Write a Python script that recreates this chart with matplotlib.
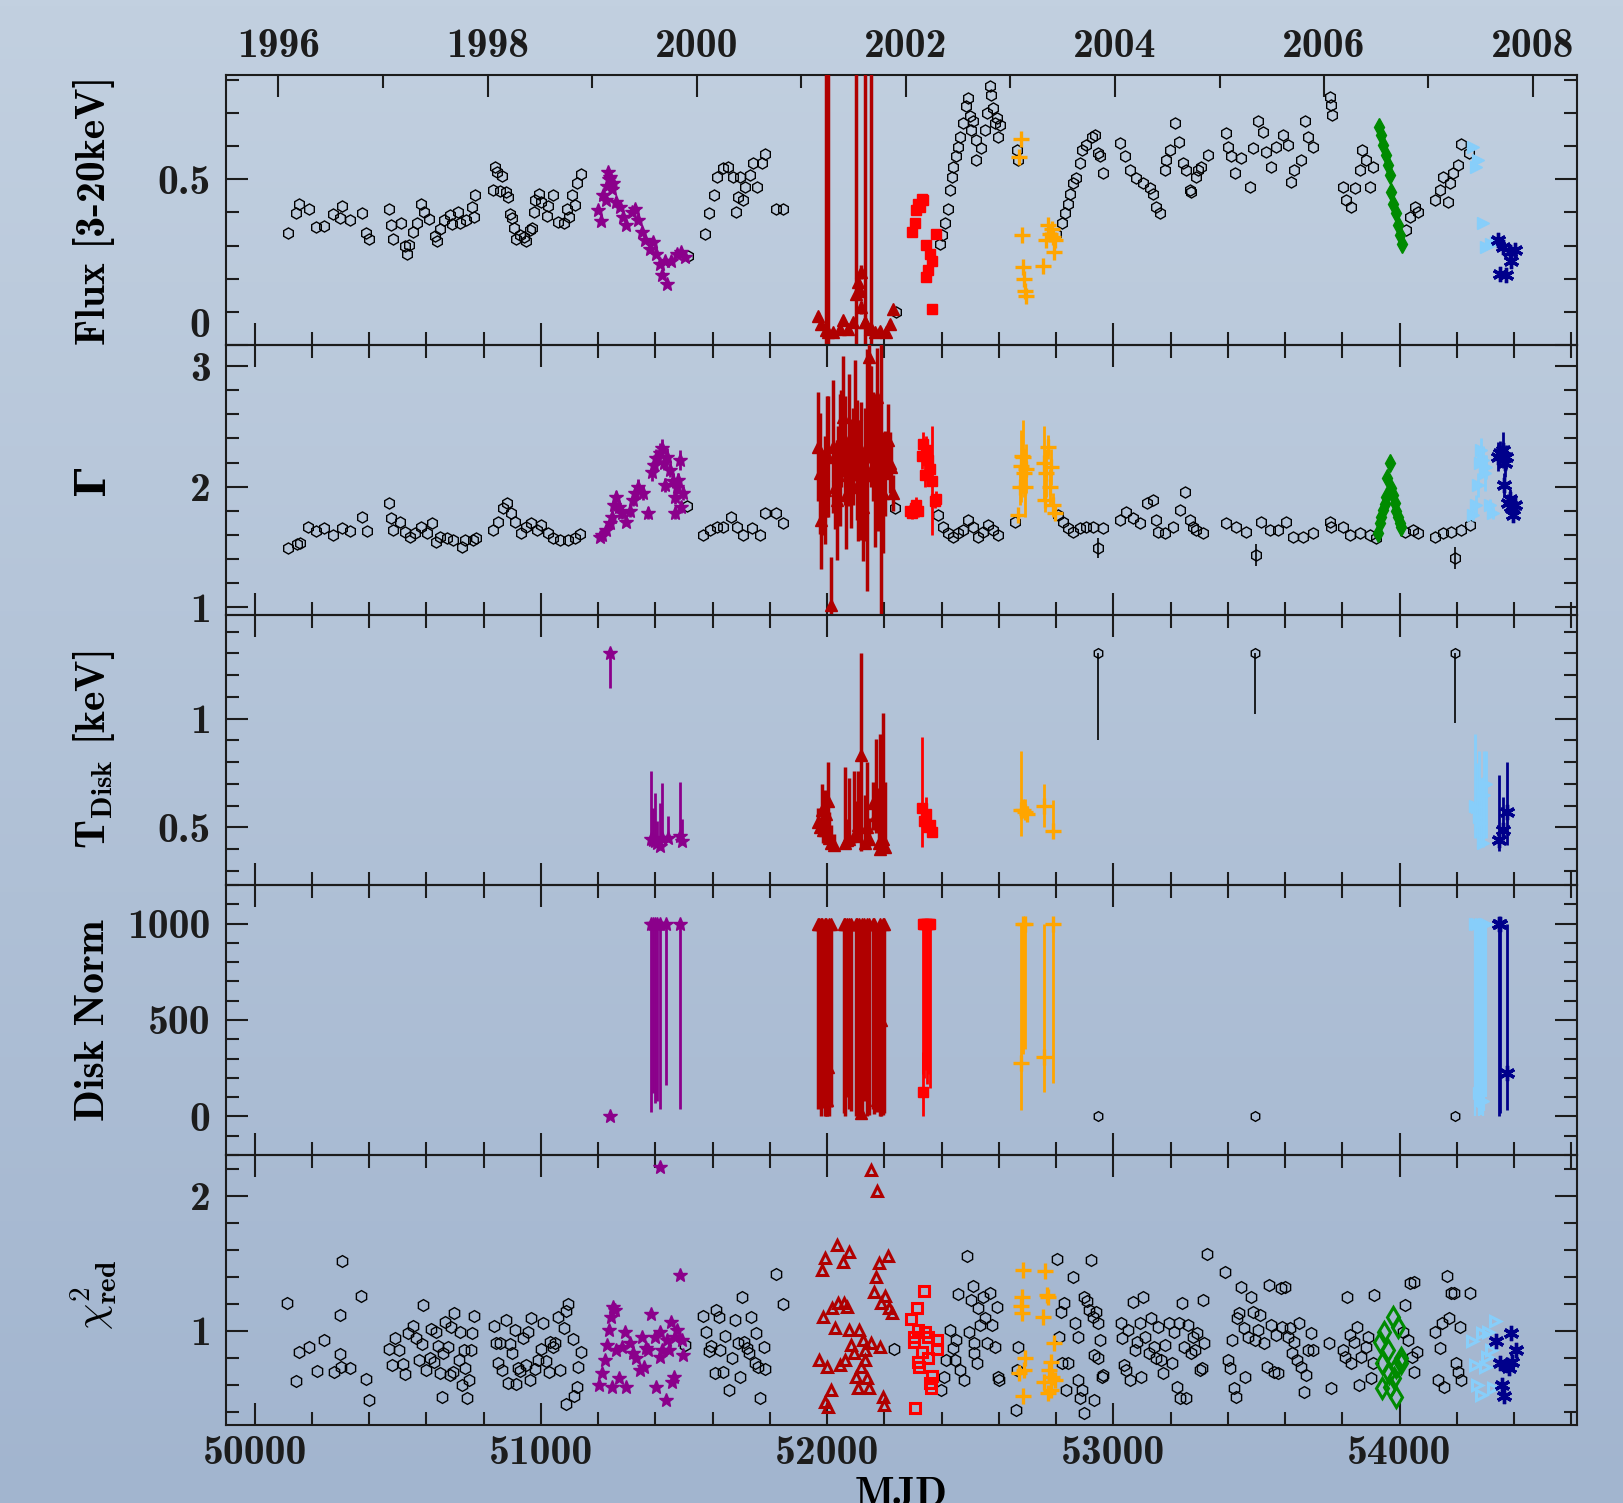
import datetime
import numpy as np
import matplotlib
matplotlib.use('Agg')
import matplotlib.pyplot as plt
from matplotlib.ticker import MultipleLocator, FuncFormatter

plt.rcParams['font.family'] = ['cmb10', 'DejaVu Serif']
plt.rcParams['mathtext.fontset'] = 'cm'
plt.rcParams['axes.unicode_minus'] = False
plt.rcParams['text.color'] = '#1c1c1c'

# ---------------- data: (MJD, value[, err] or [, err_lo, err_hi]) ----------------
flux_black = [
    (50115, .339), (50144, .398), (50156, .425), (50189, .410), (50216, .356), (50244, .359), (50275, .395),
    (50298, .382), (50306, .419), (50333, .377), (50374, .397), (50388, .338), (50399, .319), (50470, .410),
    (50476, .363), (50484, .321), (50513, .367), (50525, .298), (50534, .276), (50540, .303), (50554, .341),
    (50566, .367), (50582, .427), (50591, .402), (50610, .379), (50630, .329), (50638, .313), (50647, .351),
    (50661, .377), (50682, .392), (50688, .364), (50711, .402), (50719, .367), (50740, .377), (50758, .417),
    (50766, .387), (50770, .454), (50834, .468), (50839, .536), (50848, .523), (50857, .466), (50863, .510),
    (50878, .463), (50886, .447), (50892, .394), (50900, .382), (50906, .353), (50912, .319), (50927, .331),
    (50941, .326), (50948, .313), (50962, .346), (50970, .354), (50976, .400), (50979, .437), (50994, .457),
    (51002, .432), (51020, .389), (51026, .420), (51043, .452), (51061, .370), (51080, .367), (51090, .410),
    (51099, .387), (51109, .452), (51119, .422), (51125, .490), (51139, .516), (51515, .269),
    (51573, .336), (51588, .397), (51604, .452), (51614, .508), (51637, .533), (51654, .538), (51672, .508),
    (51681, .402), (51689, .447), (51695, .508), (51707, .437), (51713, .478), (51730, .513), (51742, .548),
    (51756, .478), (51771, .548), (51782, .576), (51823, .412), (51846, .412), (52240, .100),
    (52394, .306), (52403, .331), (52412, .367), (52423, .412), (52431, .467), (52438, .508), (52440, .538),
    (52452, .569), (52458, .599), (52464, .629), (52475, .670), (52487, .720), (52493, .745), (52499, .690),
    (52504, .649), (52510, .675), (52519, .558), (52522, .619), (52539, .594), (52551, .649), (52557, .700),
    (52568, .781), (52571, .755), (52580, .715), (52586, .670), (52592, .685), (52598, .629), (52603, .665),
    (52662, .589), (52667, .558),
    (52801, .336), (52819, .367), (52831, .397), (52842, .427), (52848, .457), (52860, .488), (52871, .503),
    (52883, .548), (52892, .589), (52906, .604), (52924, .629), (52935, .634), (52947, .579), (52953, .569),
    (52964, .518), (53022, .609), (53040, .569), (53057, .528), (53081, .503), (53104, .488), (53127, .473),
    (53139, .457), (53150, .417), (53162, .397), (53180, .528), (53185, .558), (53197, .589), (53214, .670),
    (53230, .614), (53244, .548), (53255, .528), (53267, .467), (53273, .462), (53290, .508), (53296, .528),
    (53307, .538), (53331, .574), (53393, .639), (53401, .599), (53412, .569), (53424, .518), (53447, .564),
    (53476, .478), (53488, .594), (53506, .675), (53523, .644), (53534, .584), (53552, .538), (53567, .599),
    (53593, .634), (53610, .604), (53622, .493), (53633, .528), (53657, .558), (53669, .675), (53680, .629),
    (53698, .599), (53756, .750), (53760, .725), (53764, .695), (53802, .478), (53814, .437), (53832, .417),
    (53843, .473), (53861, .528), (53870, .589), (53884, .558), (53896, .478), (53907, .538),
    (54024, .346), (54035, .387), (54053, .417), (54064, .402), (54123, .437), (54140, .467), (54152, .508),
    (54169, .432), (54175, .488), (54187, .518), (54204, .543), (54216, .607), (54243, .581),
]
flux_purple = [
    (51200, .407), (51209, .374), (51218, .452), (51227, .439), (51230, .480), (51235, .523), (51238, .500),
    (51243, .508), (51247, .470), (51253, .488), (51264, .432), (51276, .417), (51288, .387), (51299, .361),
    (51317, .402), (51328, .412), (51340, .377), (51352, .341), (51363, .316), (51381, .291), (51392, .311),
    (51404, .276), (51416, .245), (51422, .210), (51433, .255), (51441, .183), (51456, .255), (51474, .276),
    (51491, .281), (51503, .266),
]
flux_darkred = [
    (51969, .089, .01), (51980, .064, .01), (51995, .045, 1.0), (52004, .040, 1.0), (52021, .038, .01),
    (52044, .048, .01), (52056, .074, .01), (52074, .048, .01), (52091, .069, .01), (52100, .154, 1.0),
    (52108, .190, .02), (52114, .164, .02), (52118, .220, .02), (52120, .114, .02), (52132, .069, .01),
    (52134, .070, 1.0), (52149, .048, .01), (52152, .050, 1.0), (52167, .038, .01), (52184, .043, .01),
    (52207, .038, .01), (52219, .064, .01), (52231, .109, .01),
]
flux_red = [
    (52298, .341), (52306, .367), (52312, .407), (52318, .425), (52324, .417), (52330, .442), (52336, .438),
    (52345, .301), (52347, .205), (52351, .225), (52359, .276), (52365, .109), (52368, .255), (52382, .336),
]
flux_orange = [
    (52671, .566), (52677, .621), (52680, .331), (52685, .235), (52687, .200), (52691, .164), (52694, .149),
    (52755, .237), (52766, .316), (52772, .361), (52778, .336), (52785, .350), (52790, .326), (52792, .281),
    (52795, .316),
]
flux_green = [
    (53928, .659), (53936, .634), (53942, .604), (53951, .574), (53960, .543), (53965, .513), (53971, .463),
    (53977, .427), (53986, .397), (53995, .362), (54003, .331), (54008, .306),
]
flux_lblue = [(54256, .599), (54266, .536), (54274, .558), (54291, .367), (54303, .296), (54320, .306), (54338, .311)]
flux_navy = [(54344, .316), (54350, .215), (54361, .296), (54373, .210), (54385, .281), (54390, .255), (54402, .286)]

gamma_black = [
    (50115, 1.49), (50147, 1.525), (50158, 1.536), (50187, 1.663), (50216, 1.635), (50243, 1.66), (50275, 1.60),
    (50304, 1.655), (50333, 1.635), (50374, 1.746), (50391, 1.633), (50470, 1.862), (50475, 1.738),
    (50484, 1.641), (50508, 1.71), (50525, 1.627), (50542, 1.586), (50560, 1.619), (50583, 1.668),
    (50601, 1.613), (50618, 1.696), (50633, 1.544), (50647, 1.586), (50671, 1.572), (50694, 1.558),
    (50723, 1.503), (50735, 1.558), (50764, 1.558), (50773, 1.572), (50834, 1.641), (50851, 1.71),
    (50868, 1.82), (50882, 1.862), (50894, 1.779), (50909, 1.71), (50932, 1.613), (50948, 1.668),
    (50967, 1.696), (50985, 1.641), (51002, 1.682), (51026, 1.613), (51043, 1.572), (51066, 1.558),
    (51096, 1.558), (51119, 1.572), (51136, 1.608), (51509, 1.84),
    (51567, 1.60), (51590, 1.641), (51614, 1.668), (51637, 1.668), (51666, 1.751), (51684, 1.668),
    (51707, 1.60), (51736, 1.655), (51765, 1.60), (51782, 1.779), (51823, 1.779), (51847, 1.696), (52236, 1.82),
    (52388, 1.765), (52405, 1.668), (52423, 1.613), (52440, 1.586), (52458, 1.613), (52475, 1.641),
    (52493, 1.724), (52510, 1.668), (52528, 1.586), (52545, 1.627), (52563, 1.682), (52580, 1.641),
    (52598, 1.60), (52656, 1.71),
    (52807, 1.765), (52825, 1.71), (52842, 1.655), (52860, 1.627), (52883, 1.655), (52906, 1.668),
    (52929, 1.668), (52964, 1.655), (53022, 1.724), (53046, 1.793), (53069, 1.738), (53092, 1.696),
    (53116, 1.862), (53139, 1.89), (53150, 1.724), (53156, 1.627), (53180, 1.613), (53209, 1.668),
    (53232, 1.806), (53250, 1.959), (53267, 1.724), (53278, 1.668), (53290, 1.641), (53313, 1.613),
    (53395, 1.696), (53430, 1.668), (53465, 1.627), (53517, 1.71), (53546, 1.641), (53575, 1.641),
    (53604, 1.71), (53628, 1.586), (53663, 1.586), (53698, 1.613), (53756, 1.71), (53762, 1.668),
    (53802, 1.668), (53826, 1.60), (53861, 1.613), (53896, 1.60), (53919, 1.572), (54018, 1.627),
    (54047, 1.641), (54064, 1.613), (54123, 1.586), (54152, 1.613), (54181, 1.627), (54216, 1.641),
    (54245, 1.682),
]
gamma_black_err = [(52947, 1.49, .08), (53497, 1.434, .09), (54195, 1.406, .09)]
gamma_purple = [
    (51206, 1.586, .03), (51215, 1.60, .03), (51229, 1.641, .04), (51240, 1.70, .04), (51247, 1.75, .05),
    (51255, 1.85, .05), (51264, 1.917, .05), (51272, 1.83, .04), (51282, 1.78, .05), (51299, 1.71, .04),
    (51310, 1.80, .05), (51322, 1.89, .05), (51330, 1.95, .05), (51340, 2.0, .06), (51357, 1.945, .06),
    (51375, 1.78, .05), (51387, 2.124, .08), (51397, 2.18, .08), (51404, 2.235, .08), (51415, 2.28, .08),
    (51422, 2.318, .08), (51430, 2.2, .06), (51433, 2.014, .06), (51439, 2.249, .07), (51451, 2.138, .06),
    (51460, 2.05, .06), (51468, 1.917, .06), (51470, 1.78, .05), (51475, 2.0, .06), (51480, 2.055, .06),
    (51486, 2.22, .08), (51491, 1.834, .05), (51497, 1.945, .06),
]
gamma_darkred = [
    (51969, 2.332, .45), (51975, 2.11, .5), (51980, 1.72, .4), (51986, 1.95, .35), (51992, 1.972, .45),
    (51998, 2.25, .5), (52004, 2.249, .5), (52012, 1.02, .4), (52021, 2.332, .55), (52027, 2.0, .35),
    (52033, 1.89, .5), (52039, 2.1, .4), (52044, 2.22, .55), (52050, 2.4, .4), (52056, 2.58, .5),
    (52062, 2.3, .45), (52066, 1.93, .45), (52077, 2.386, .55), (52085, 2.11, .45), (52091, 2.25, .4),
    (52097, 2.55, .5), (52103, 2.22, .5), (52108, 2.0, .45), (52114, 2.055, .5), (52120, 2.3, .4),
    (52126, 1.834, .45), (52132, 2.1, .55), (52138, 2.138, 1.0), (52147, 3.077, .25), (52150, 2.6, .4),
    (52155, 2.497, .5), (52161, 2.332, .45), (52167, 2.1, .6), (52173, 2.746, .4), (52178, 2.083, .45),
    (52184, 2.2, .5), (52190, 2.249, 1.45), (52196, 1.95, .5), (52202, 2.11, .35), (52213, 2.386, .3),
    (52219, 2.2, .25), (52225, 2.166, .2), (52231, 1.945, .15),
]
gamma_red = [
    (52290, 1.80, .05), (52298, 1.78, .05), (52306, 1.82, .05), (52312, 1.85, .06), (52318, 1.80, .05),
    (52330, 2.25, .1), (52336, 2.35, .1), (52341, 2.1, .1), (52347, 2.30, .12), (52353, 2.22, .1),
    (52359, 2.15, .1), (52365, 2.05, .45), (52376, 1.88, .06), (52382, 1.90, .06),
]
gamma_orange = [
    (52667, 1.765, .05), (52673, 2.0, .15), (52677, 2.17, .3), (52681, 2.25, .2), (52685, 2.249, .3),
    (52688, 2.11, .2), (52691, 2.0, .25), (52694, 2.15, .2), (52757, 2.2, .3), (52762, 1.89, .1),
    (52766, 2.11, .2), (52772, 2.332, .1), (52778, 2.0, .15), (52784, 2.166, .15), (52790, 1.85, .1),
    (52795, 1.78, .06),
]
gamma_green = [
    (53925, 1.613), (53930, 1.70), (53936, 1.751), (53942, 1.806), (53948, 1.86), (53954, 1.917),
    (53957, 2.069), (53965, 2.2), (53971, 1.986), (53977, 1.93), (53983, 1.862), (53989, 1.80),
    (53995, 1.751), (54000, 1.70), (54006, 1.668),
]
gamma_lblue = [
    (54257, 1.765, .05), (54266, 1.85, .08), (54274, 2.014, .1), (54280, 2.2, .1), (54286, 2.304, .1),
    (54291, 2.22, .12), (54297, 2.11, .15), (54303, 2.166, .1), (54315, 1.848, .05), (54326, 1.78, .05),
]
gamma_navy = [
    (54344, 2.249, .12), (54352, 2.28, .1), (54361, 2.304, .15), (54364, 2.014, .1), (54367, 2.2, .12),
    (54373, 2.249, .1), (54379, 1.862, .08), (54385, 1.90, .08), (54390, 1.834, .06), (54396, 1.765, .05),
    (54402, 1.848, .06),
]

tdisk_black = [(52947, 1.30, .40, 0), (53495, 1.30, .28, 0), (54194, 1.30, .32, 0)]
tdisk_purple = [
    (51240, 1.30, .16, 0), (51384, .448, .02, .31), (51392, .44, .02, .15), (51399, .437, .02, .22),
    (51407, .43, .02, .10), (51415, .414, .02, .20), (51423, .452, .02, .25), (51443, .452, .02, .10),
    (51485, .46, .02, .25), (51493, .437, .02, .10),
]
tdisk_darkred = [
    (51968, .527, .03, .06), (51975, .50, .04, .05), (51981, .58, .08, .12), (51986, .49, .06, .05),
    (51992, .49, .05, .18), (51997, .56, .10, .10), (52003, .62, .12, .18), (52008, .45, .03, .12),
    (52012, .43, .02, .08), (52023, .42, .02, .05), (52062, .43, .03, .35), (52070, .44, .03, .10),
    (52078, .445, .04, .28), (52093, .46, .03, .30), (52100, .47, .03, .15), (52109, .51, .04, .25),
    (52120, .833, .44, .47), (52132, .43, .03, .22), (52140, .50, .06, .30), (52148, .445, .03, .10),
    (52159, .61, .12, .10), (52171, .555, .08, .35), (52180, .43, .03, .25), (52184, .40, .02, .53),
    (52195, .445, .04, .58), (52203, .41, .02, .30),
]
tdisk_red = [
    (52330, .588, .18, .33), (52338, .53, .05, .05), (52346, .56, .05, .08), (52353, .50, .03, .05),
    (52360, .51, .03, .04), (52366, .48, .02, .05),
]
tdisk_orange = [
    (52677, .58, .12, .27), (52684, .58, .03, .05), (52690, .57, .03, .06), (52697, .56, .03, .04),
    (52757, .60, .10, .10), (52791, .485, .025, .14),
]
tdisk_lblue = [
    (54264, .60, .15, .33), (54270, .596, .14, .20), (54276, .55, .10, .30), (54283, .52, .08, .20),
    (54290, .43, .02, .30), (54294, .65, .20, .20), (54303, .70, .25, .15),
]
tdisk_navy = [(54347, .443, .05, .30), (54360, .49, .05, .15), (54376, .57, .15, .23)]

norm_black = [(52947, 0), (53495, 0), (54194, 0)]
norm_purple = [
    (51240, 0, 0, 0), (51384, 1000, 975, 0), (51392, 1000, 880, 0), (51399, 1000, 930, 0),
    (51407, 1000, 920, 0), (51415, 1000, 960, 0), (51438, 1000, 835, 0), (51485, 1000, 960, 0),
]
norm_darkred = [
    (51968, 1000, 960, 0), (51972, 1000, 570, 0), (51978, 1000, 1000, 0), (51983, 1000, 500, 0),
    (51988, 744, 700, 256), (51992, 1000, 1000, 0), (51997, 1000, 1000, 0), (52000, 85, 85, 900),
    (52003, 258, 200, 740), (52008, 1000, 1000, 0), (52012, 1000, 950, 0), (52058, 1000, 980, 0),
    (52064, 1000, 1000, 0), (52070, 1000, 900, 0), (52078, 1000, 960, 0), (52085, 1000, 970, 0),
    (52100, 1000, 1000, 0), (52105, 1000, 800, 0), (52112, 1000, 1000, 0), (52117, 18, 18, 980),
    (52122, 1000, 1000, 0), (52130, 1000, 920, 0), (52138, 1000, 1000, 0), (52145, 1000, 990, 0),
    (52160, 1000, 960, 0), (52165, 1000, 985, 0), (52175, 85, 60, 900), (52184, 1000, 1000, 0),
    (52190, 500, 500, 500), (52195, 1000, 990, 0), (52200, 1000, 980, 0),
]
norm_red = [
    (52334, 128, 128, 208), (52336, 1000, 780, 0), (52340, 1000, 800, 0), (52345, 1000, 760, 0),
    (52350, 1000, 830, 0), (52355, 1000, 780, 0), (52358, 1000, 850, 0),
]
norm_orange = [
    (52677, 275, 242, 725), (52686, 1000, 675, 0), (52690, 1000, 650, 0), (52757, 306, 178, 694),
    (52791, 1000, 828, 0),
]
norm_lblue = [
    (54264, 1000, 1000, 0), (54270, 1000, 950, 0), (54276, 121, 121, 879), (54283, 1000, 990, 0),
    (54290, 80, 80, 920), (54296, 1000, 970, 0), (54303, 1000, 900, 0),
]
norm_navy = [(54347, 1000, 1000, 0), (54352, 1000, 980, 0), (54376, 224, 190, 776)]

chi_black = [
    (50114, 1.206), (50144, .628), (50155, .841), (50189, .875), (50217, .702), (50244, .930), (50276, .693),
    (50297, .823), (50300, 1.115), (50302, .732), (50306, 1.512), (50333, .722), (50372, 1.258), (50389, .643),
    (50400, .485), (50471, .863), (50479, .744), (50490, .942), (50506, .856), (50518, .752), (50526, .678),
    (50537, .979), (50553, 1.033), (50565, .942), (50576, .781), (50584, .900), (50588, 1.186), (50599, .707),
    (50612, .794), (50616, 1.011), (50627, .769), (50635, .991), (50640, .885), (50646, .683), (50654, .510),
    (50659, .831), (50666, 1.063), (50674, .880), (50682, .670), (50687, 1.028), (50694, .695), (50698, 1.132),
    (50713, .781), (50718, .991), (50724, .596), (50732, .856), (50736, .720), (50741, .497), (50749, .633),
    (50757, .856), (50760, .979), (50768, 1.110), (50836, 1.033), (50843, .910), (50852, .757), (50858, .910),
    (50864, .707), (50877, 1.078), (50885, .609), (50892, .898), (50900, .831), (50908, 1.004), (50913, .604),
    (50920, .720), (50927, .700), (50939, .942), (50949, .744), (50955, .991), (50963, .633), (50967, 1.090),
    (50978, .712), (50989, .781), (51002, .860), (51009, 1.058), (51017, .774), (51028, .695), (51033, .917),
    (51041, .880), (51048, .905), (51061, 1.102), (51067, .707), (51080, 1.021), (51087, 1.145), (51089, .456),
    (51095, 1.194), (51111, .935), (51115, .517), (51126, .584), (51131, .732), (51139, .841), (51505, .893),
    (51566, 1.107), (51578, .991), (51586, .848), (51594, .888), (51607, .683), (51613, 1.152), (51622, 1.102),
    (51625, .856), (51638, .695), (51644, .959), (51657, .559), (51669, .794), (51680, 1.078), (51688, .905),
    (51696, .658), (51703, 1.251), (51711, .917), (51719, .868), (51727, .836), (51735, 1.097), (51747, .762),
    (51750, .979), (51758, .732), (51766, .497), (51778, .880), (51784, .717), (51820, 1.416), (51847, 1.194),
    (52234, .86),
    (52399, .559), (52407, .658), (52415, .781), (52428, 1.004), (52439, .868), (52447, .781), (52451, .930),
    (52459, 1.268), (52464, .707), (52480, .633), (52488, 1.552), (52496, .991), (52504, 1.226), (52509, 1.330),
    (52512, .905), (52515, .831), (52525, .757), (52528, 1.164), (52536, 1.041), (52544, 1.251), (52552, 1.090),
    (52560, .905), (52568, 1.280), (52576, 1.041), (52585, .880), (52593, 1.177), (52596, .658), (52601, .633),
    (52660, .411), (52665, .707), (52666, .880),
    (52802, 1.527), (52810, .954), (52818, 1.139), (52819, .762), (52826, 1.201), (52834, .559), (52843, .757),
    (52859, 1.399), (52867, 1.053), (52875, .954), (52876, .633), (52883, .497), (52891, .559), (52896, .387),
    (52899, 1.251), (52907, 1.221), (52915, 1.152), (52923, 1.522), (52928, 1.102), (52931, .818), (52934, .485),
    (52939, 1.139), (52947, 1.053), (52948, .794), (52955, .930), (52960, .658), (52963, .670),
    (53028, 1.053), (53031, .942), (53036, .744), (53044, .707), (53052, 1.004), (53060, .633), (53068, 1.214),
    (53076, .856), (53084, .917), (53093, 1.053), (53096, .658), (53105, 1.251), (53109, .954), (53125, .831),
    (53133, 1.090), (53141, .880), (53149, .794), (53157, 1.028), (53165, .781), (53173, .683), (53181, .893),
    (53193, 1.053), (53205, .757), (53213, .991), (53222, .584), (53230, 1.053), (53234, .497), (53241, 1.201),
    (53246, .880), (53254, .497), (53262, 1.041), (53270, .831), (53278, .954), (53286, .856), (53294, .979),
    (53302, .707), (53310, .720), (53315, 1.226), (53318, .905), (53326, 1.567),
    (53391, 1.436), (53399, .781), (53407, .720), (53415, .930), (53420, .572), (53428, .510), (53431, 1.090),
    (53439, 1.127), (53447, 1.325), (53455, 1.016), (53460, .658), (53471, .954), (53480, 1.251), (53488, 1.139),
    (53496, .930), (53504, 1.004), (53512, 1.115), (53528, .905), (53536, .732), (53544, 1.337), (53552, 1.041),
    (53560, .695), (53568, .967), (53576, .683), (53585, 1.312), (53589, 1.028), (53601, 1.325), (53609, .954),
    (53617, 1.016), (53625, .831), (53633, .917), (53641, .781), (53649, 1.053), (53657, .732), (53665, .547),
    (53673, .670), (53681, .856), (53689, .979), (53697, .856),
    (53754, .905), (53762, .572), (53802, .856), (53810, .806), (53818, 1.251), (53826, .967), (53831, .757),
    (53842, .917), (53850, 1.028), (53859, .596), (53867, .806), (53883, .880), (53891, .954), (53899, .646),
    (53907, .757), (53912, 1.263),
    (54012, .991), (54020, 1.189), (54028, .930), (54036, 1.349), (54044, .806), (54049, 1.362), (54052, .695),
    (54060, .843), (54125, .991), (54133, .633), (54141, .868), (54149, 1.053), (54157, .584), (54165, 1.404),
    (54173, 1.090), (54181, 1.275), (54189, 1.275), (54197, .757), (54205, .695), (54210, 1.028), (54213, .633),
    (54246, 1.275),
]
chi_purple = [
    (51204, .596), (51212, .683), (51223, .781), (51232, .893), (51239, 1.004), (51245, 1.102), (51248, .584),
    (51251, 1.177), (51259, 1.152), (51264, .856), (51274, .646), (51282, .880), (51295, .991), (51298, .584),
    (51310, .905), (51321, .831), (51332, .794), (51345, .707), (51352, .954), (51360, .732), (51368, .868),
    (51376, .856), (51384, 1.122), (51399, .954), (51404, .584), (51415, 2.209), (51415, .991), (51416, .806),
    (51423, .856), (51438, .485), (51440, .930), (51446, .856), (51454, 1.065), (51457, .621), (51466, .658),
    (51469, .954), (51477, 1.004), (51485, 1.411), (51493, .930), (51498, .818),
]
chi_darkred = [
    (51972, .781), (51981, 1.448), (51987, 1.102), (51992, 1.535), (51993, .473), (52000, .732), (52003, .436),
    (52012, .559), (52018, 1.164), (52028, 1.016), (52035, 1.633), (52039, 1.201), (52046, .744), (52054, 1.510),
    (52059, 1.201), (52062, .781), (52070, 1.177), (52077, 1.584), (52078, 1.004), (52085, .893), (52093, .831),
    (52101, .658), (52109, .571), (52112, 1.004), (52117, .732), (52124, .930), (52132, .781), (52133, .856),
    (52140, .646), (52148, .571), (52152, 2.189), (52155, .905), (52163, 1.288), (52171, 1.399), (52176, 2.036),
    (52182, 1.497), (52184, .880), (52187, 1.201), (52194, .510), (52198, .448), (52202, 1.258), (52213, 1.552),
    (52218, 1.164), (52226, 1.127),
]
chi_red = [
    (52294, 1.083), (52302, .954), (52303, .917), (52307, .423), (52315, 1.167), (52318, 1.004), (52319, .769),
    (52322, .732), (52331, .843), (52339, 1.290), (52343, .991), (52351, .954), (52354, .794), (52359, .609),
    (52364, .572), (52367, .663), (52383, .930), (52384, .860),
]
chi_orange = [
    (52670, .683), (52676, 1.181), (52681, 1.251), (52682, 1.127), (52683, .517), (52686, 1.448), (52687, .707),
    (52693, .794), (52754, 1.102), (52757, .621), (52762, 1.441), (52770, 1.263), (52771, .535), (52773, 1.246),
    (52774, .707), (52783, .769), (52784, .559), (52786, .658), (52794, .905), (52795, .633),
]
chi_green = [
    (53931, .917), (53939, .757), (53940, .572), (53947, .991), (53960, .856), (53963, .683), (53966, .579),
    (53976, 1.102), (53980, .646), (53987, .732), (53988, .510), (53996, 1.028), (54004, .794), (54005, .757),
]
chi_lblue = [
    (54254, .925), (54262, .744), (54270, .596), (54286, .522), (54289, .979), (54300, .732), (54306, .806),
    (54310, .991), (54318, .856), (54326, .572), (54334, 1.073),
]
chi_navy = [
    (54337, .925), (54350, .757), (54358, .596), (54366, .515), (54375, .744), (54383, .720), (54391, .984),
    (54392, .769), (54407, .856),
]

years = list(range(1996, 2009))
ylabels = ['Flux [3-20keV]', 'Γ', r'T$_{\mathbf{Disk}}$ [keV]', 'Disk Norm',
           r'$\chi^{\mathbf{2}}_{\mathbf{red}}$']

FS = 30

# ---------------- figure ----------------
W, H = 1624, 1503
fig = plt.figure(figsize=(W / 100, H / 100), dpi=100)

# background gradient
bg = fig.add_axes([0, 0, 1, 1], zorder=-10)
top_c = np.array([194, 208, 224]) / 255.0
bot_c = np.array([162, 181, 207]) / 255.0
t = np.linspace(0, 1, 256)[:, None, None]
grad = top_c * (1 - t) + bot_c * t
bg.imshow(np.repeat(grad, 2, axis=1), aspect='auto', extent=[0, 1, 0, 1])
bg.axis('off')

left, right, top_px, ph = 226, 1577, 75, 270
axes = []
for i in range(5):
    y0 = 1 - (top_px + ph * (i + 1)) / H
    ax = fig.add_axes([left / W, y0, (right - left) / W, ph / H],
                      sharex=axes[0] if axes else None)
    ax.set_facecolor('none')
    axes.append(ax)
ax1, ax2, ax3, ax4, ax5 = axes


def cols(rows):
    return [np.array(c, dtype=float) for c in zip(*rows)]


def draw(ax, rows, color, marker, ms, hollow=False, mew=1.0, elw=2.0, z=3):
    c = cols(rows)
    yerr = None
    if len(c) == 3:
        yerr = c[2]
    elif len(c) == 4:
        yerr = [c[2], c[3]]
    ax.errorbar(c[0], c[1], yerr=yerr, fmt='', marker=marker, ls='none', color=color, ms=ms,
                mfc='none' if hollow else color, mec=color, mew=mew,
                elinewidth=elw, capsize=0, zorder=z)


PURPLE, DRED, RED, ORANGE = '#8b008b', '#b00000', '#ff0000', '#ffa500'
GREEN, LBLUE, NAVY = '#008b00', '#87cefa', '#00008b'
STAR = (6, 2, 0)

# flux
draw(ax1, flux_black, 'k', 'h', 8, hollow=True, z=2)
draw(ax1, flux_purple, PURPLE, '*', 10)
draw(ax1, flux_darkred, DRED, '^', 8, elw=2.5)
draw(ax1, flux_red, RED, 's', 6.5)
draw(ax1, flux_orange, ORANGE, '+', 12, mew=2.4)
draw(ax1, flux_green, GREEN, 'd', 9)
draw(ax1, flux_lblue, LBLUE, '>', 8)
draw(ax1, flux_navy, NAVY, STAR, 11, mew=2.4)

# photon index
draw(ax2, gamma_black, 'k', 'h', 8, hollow=True, z=2)
draw(ax2, gamma_black_err, 'k', 'h', 8, hollow=True, elw=1.2, z=2)
draw(ax2, gamma_purple, PURPLE, '*', 10)
draw(ax2, gamma_darkred, DRED, '^', 8, elw=2.5)
draw(ax2, gamma_red, RED, 's', 6.5)
draw(ax2, gamma_orange, ORANGE, '+', 12, mew=2.4)
draw(ax2, gamma_green, GREEN, 'd', 9)
draw(ax2, gamma_lblue, LBLUE, '>', 8)
draw(ax2, gamma_navy, NAVY, STAR, 11, mew=2.4)

# disk temperature
draw(ax3, tdisk_black, 'k', 'h', 7, hollow=True, elw=1.2)
draw(ax3, tdisk_purple, PURPLE, '*', 10)
draw(ax3, tdisk_darkred, DRED, '^', 8, elw=2.5)
draw(ax3, tdisk_red, RED, 's', 6.5)
draw(ax3, tdisk_orange, ORANGE, '+', 12, mew=2.4)
draw(ax3, tdisk_lblue, LBLUE, '>', 8)
draw(ax3, tdisk_navy, NAVY, STAR, 11, mew=2.4)

# disk normalisation
draw(ax4, norm_black, 'k', 'h', 7, hollow=True)
draw(ax4, norm_purple, PURPLE, '*', 10)
draw(ax4, norm_darkred, DRED, '^', 8, elw=2.5)
draw(ax4, norm_red, RED, 's', 6.5)
draw(ax4, norm_orange, ORANGE, '+', 12, mew=2.4)
draw(ax4, norm_lblue, LBLUE, '>', 8, elw=1.6)
draw(ax4, norm_navy, NAVY, STAR, 11, mew=2.4)

# reduced chi2 (open symbols)
draw(ax5, chi_black, 'k', 'h', 8.5, hollow=True, z=2)
draw(ax5, chi_purple, PURPLE, '*', 10)
draw(ax5, chi_darkred, DRED, '^', 7.5, hollow=True, mew=2.2)
draw(ax5, chi_red, RED, 's', 6.5, hollow=True, mew=2.2)
draw(ax5, chi_orange, ORANGE, '+', 12, mew=2.4)
draw(ax5, chi_green, GREEN, 'd', 10, hollow=True, mew=2.2)
draw(ax5, chi_lblue, LBLUE, '>', 7.5, hollow=True, mew=2.2)
draw(ax5, chi_navy, NAVY, STAR, 11, mew=2.4)

# ---------------- axes styling ----------------
ylims = [(0, 0.815), (0.935, 3.175), (0.235, 1.477), (-200, 1200), (0.3, 2.3)]
majors = [0.5, 1, 0.5, 500, 1]
minors = [0.1, 0.2, 0.1, 100, 0.2]
fmt = FuncFormatter(lambda v, p: '%g' % v)
ax1.set_xlim(49900, 54620)
for i, ax in enumerate(axes):
    ax.set_ylim(*ylims[i])
    ax.yaxis.set_major_locator(MultipleLocator(majors[i]))
    ax.yaxis.set_minor_locator(MultipleLocator(minors[i]))
    ax.yaxis.set_major_formatter(fmt)
    ax.xaxis.set_major_locator(MultipleLocator(1000))
    ax.xaxis.set_minor_locator(MultipleLocator(200))
    ax.tick_params(which='both', direction='in', top=(i > 0), right=True, width=1.5,
                   labelsize=FS, pad=11, colors='#1c1c1c')
    ax.tick_params(which='major', length=16)
    ax.tick_params(which='minor', length=9.5)
    ax.tick_params(axis='x', pad=7, labelbottom=(i == 4))
    for s in ax.spines.values():
        s.set_linewidth(1.5)
        s.set_color('#1c1c1c')
    ax.set_ylabel(ylabels[i], fontsize=FS, va='center', ha='center')
    ax.yaxis.set_label_coords(-0.098, 0.5)

ax2.yaxis.label.set_fontweight('bold')
ax1.set_yticks([0, 0.5])
ax1.get_yticklabels()[0].set_va('bottom')
ax5.set_xlabel('MJD', fontsize=FS, labelpad=4)
ax5.yaxis.set_label_coords(-0.098, 0.48)

# calendar years along the top
ax_top = ax1.twiny()
ax_top.set_xlim(ax1.get_xlim())
mjd0 = datetime.date(1858, 11, 17)
year_mjd = [(datetime.date(y, 1, 1) - mjd0).days for y in years]
ax_top.set_xticks(year_mjd[::2])
ax_top.set_xticklabels([str(y) for y in years[::2]])
ax_top.set_xticks(year_mjd[1::2], minor=True)
ax_top.tick_params(which='both', direction='in', bottom=False, top=True, width=1.5,
                   labelsize=FS, pad=7, colors='#1c1c1c')
ax_top.tick_params(which='major', length=16)
ax_top.tick_params(which='minor', length=9.5)
ax_top.set_facecolor('none')
for s in ax_top.spines.values():
    s.set_visible(False)

fig.savefig('out.png', dpi=100)
